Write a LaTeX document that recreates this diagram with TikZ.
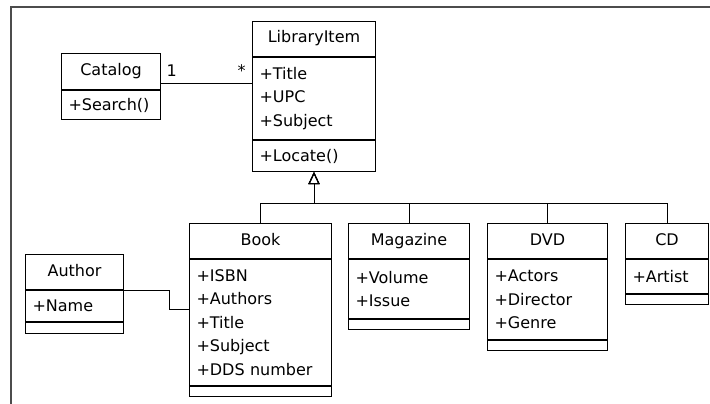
\documentclass[tikz,border=0pt]{standalone}
\usepackage{fontspec}
\setmainfont{DejaVu Sans}
\usetikzlibrary{arrows.meta}

\begin{document}
\begin{tikzpicture}[x=1pt, y=-1pt, line width=1pt,
    every node/.style={font=\fontsize{16}{23.5}\selectfont, inner xsep=7pt, inner ysep=3pt},
    classhead/.style={draw, minimum height=35pt, text height=12pt, text depth=4pt},
    classpart/.style={draw, align=left},
    inherit/.style={-{Triangle[open, length=12pt, width=11pt]}},
    mult/.style={inner sep=0pt}]
      \newcommand{\classbox}[9]{
        \pgfmathsetmacro{\tw}{#4-14}
        \node[classhead, minimum width=#4pt, anchor=north west] (#1head) at (#2,#3) {#7};
        \node[classpart, minimum width=#4pt, minimum height=#5pt, text width=\tw pt, anchor=north] (#1attr) at (#1head.south) {#8};
        \node[classpart, minimum width=#4pt, minimum height=#6pt, text width=\tw pt, anchor=north] (#1meth) at (#1attr.south) {#9};
      }
      \useasboundingbox (0,0) rectangle (710,404);
      \draw[black!70, line width=1.4pt] (710,7) -- (11,7) -- (11,404);

      % catalog
      \node[classhead, minimum width=99pt, minimum height=36pt, anchor=north west] (cathead) at (61,53) {Catalog};
      \node[classpart, minimum width=99pt, minimum height=29pt, text width=85pt, anchor=north] (catattr) at (cathead.south) {+Search()};

      \classbox{lib}{252}{21}{123}{82}{31}{LibraryItem}{+Title\\+UPC\\+Subject}{+Locate()}

      \draw ([yshift=-12pt]cathead.east) -- ([yshift=-12pt]cathead.east -| libattr.west)
        node[mult, pos=0, anchor=base west, xshift=5pt, yshift=7pt] (one) {1}
        node[mult, pos=1, anchor=base east, xshift=-6pt, yshift=7pt] (many) {*};

      % subclasses
      \classbox{book}{189}{223}{142}{126}{10}{Book}{+ISBN\\+Authors\\+Title\\+Subject\\+DDS number}{}
      \classbox{mag}{348}{223}{121}{59}{10}{Magazine}{+Volume\\+Issue}{}
      \classbox{dvd}{487}{223}{120}{80}{10}{DVD}{+Actors\\+Director\\+Genre}{}
      \classbox{cd}{625}{223}{83}{34}{10}{CD}{+Artist}{}

      \draw[inherit] (bookhead.north) -- ++(0,-20) -| (libmeth.south);
      \draw[inherit] (maghead.north) -- ++(0,-20) -| (libmeth.south);
      \draw[inherit] (dvdhead.north) -- ++(0,-20) -| (libmeth.south);
      \draw[inherit] (cdhead.north) -- ++(0,-20) -| (libmeth.south);

      % author
      \classbox{auth}{25}{254}{98}{31}{11}{Author}{+Name}{}
      \draw (authhead.south east) -- ++(45,0) |- ([yshift=13pt]bookattr.west);

    \end{tikzpicture}
\end{document}
